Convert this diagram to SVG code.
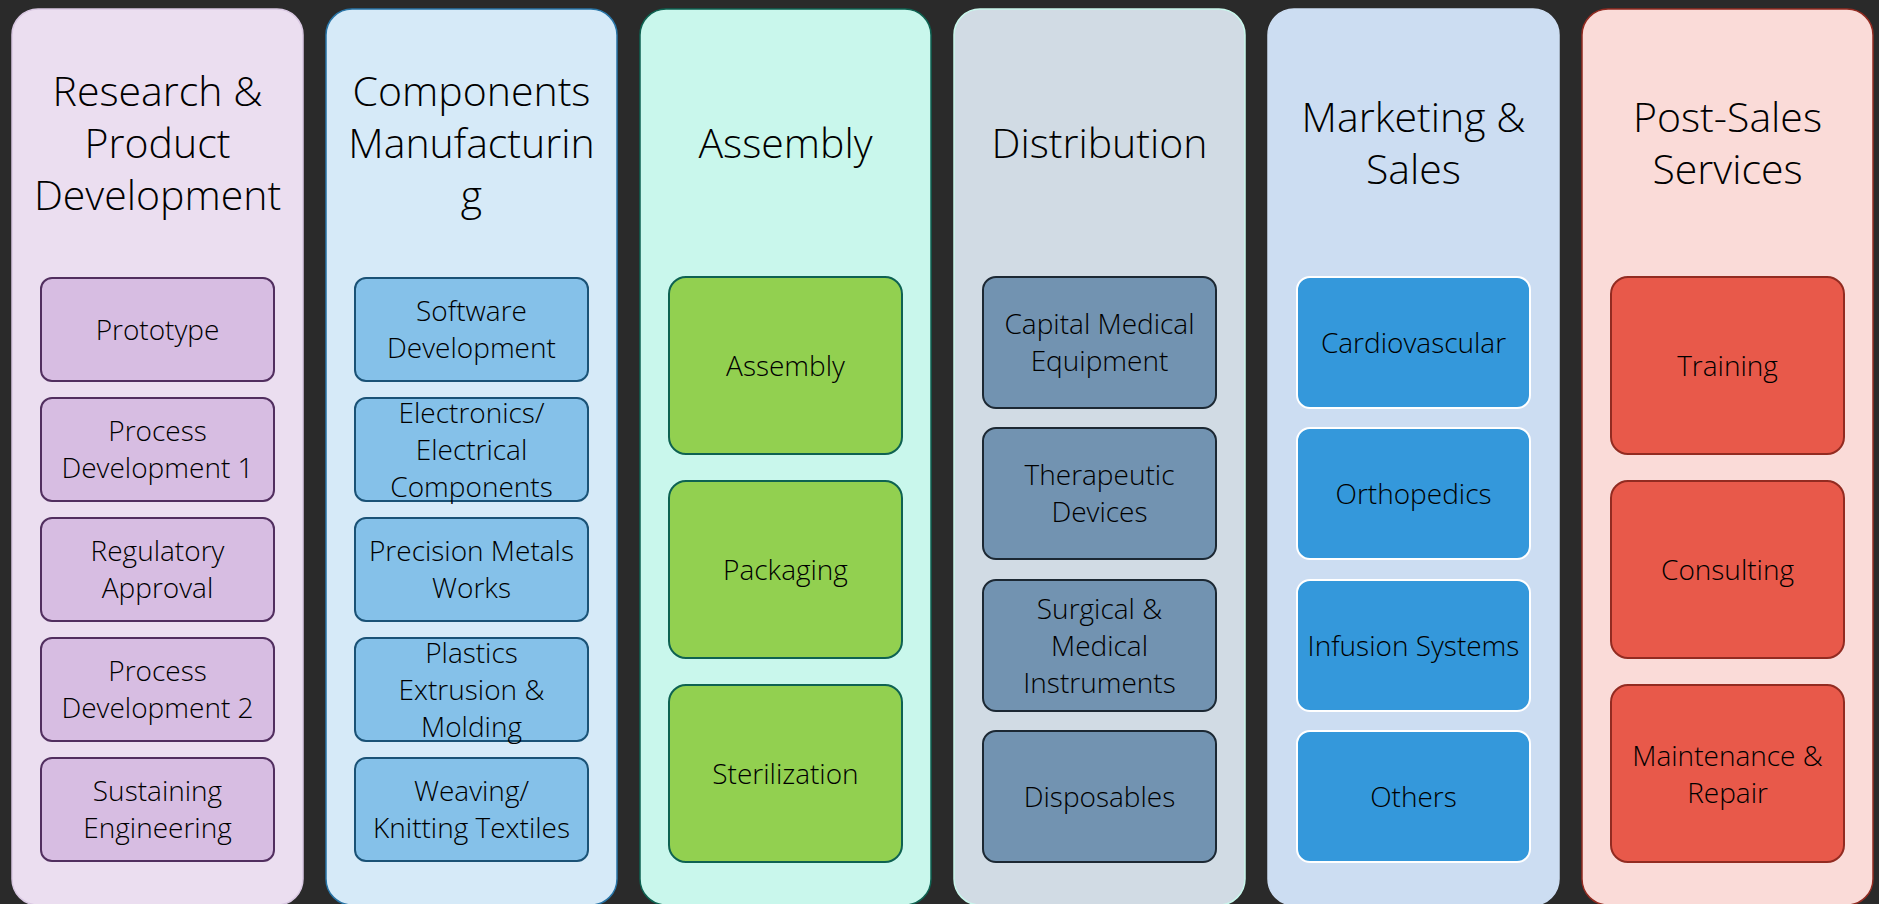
<svg xmlns="http://www.w3.org/2000/svg" width="1879" height="904" viewBox="0 0 1879 904">
<style>
text{font-family:"Segoe UI","Open Sans","Noto Sans",sans-serif;font-weight:300;fill:#000;text-anchor:middle}
.t{font-size:41px}
.b{font-size:28px}
.p1{fill:#EBDEF0;stroke:#D9C8E2;stroke-width:1.5}
.p2{fill:#D6EAF8;stroke:#2874A6;stroke-width:1.5}
.p3{fill:#C9F7EC;stroke:#0E6251;stroke-width:1.5}
.p4{fill:#D1DBE4;stroke:#C9F7EC;stroke-width:1.5}
.p5{fill:#CCDDF2;stroke:#CCDDF2;stroke-width:1.5}
.p6{fill:#FADBD8;stroke:#922B21;stroke-width:1.5}
.b1{fill:#D7BDE2;stroke:#512E5F;stroke-width:2}
.b2{fill:#85C1E9;stroke:#1A5276;stroke-width:2}
.b3{fill:#92D050;stroke:#0E6251;stroke-width:2}
.b4{fill:#7293B1;stroke:#1C2833;stroke-width:2}
.b5{fill:#3498DB;stroke:#FFFFFF;stroke-width:2}
.b6{fill:#E8594A;stroke:#922B21;stroke-width:2}
</style>
<rect x="0" y="0" width="1879" height="904" fill="#2A2A2A"/>
<g id="col1">
<rect class="p1" x="12" y="9" width="291" height="896" rx="26"/>
<text class="t" x="157.5" y="105.5">Research &amp;</text>
<text class="t" x="157.5" y="157.5">Product</text>
<text class="t" x="157.5" y="209.5">Development</text>
</g>
<g id="col1-prototype"><rect class="b1" x="41" y="278" width="233" height="103" rx="11"/><text class="b" x="157.5" y="340">Prototype</text></g>
<g id="col1-pd1"><rect class="b1" x="41" y="398" width="233" height="103" rx="11"/><text class="b" x="157.5" y="441.3">Process</text><text class="b" x="157.5" y="478.3">Development 1</text></g>
<g id="col1-reg"><rect class="b1" x="41" y="518" width="233" height="103" rx="11"/><text class="b" x="157.5" y="561.3">Regulatory</text><text class="b" x="157.5" y="598.3">Approval</text></g>
<g id="col1-pd2"><rect class="b1" x="41" y="638" width="233" height="103" rx="11"/><text class="b" x="157.5" y="681.3">Process</text><text class="b" x="157.5" y="718.3">Development 2</text></g>
<g id="col1-sus"><rect class="b1" x="41" y="758" width="233" height="103" rx="11"/><text class="b" x="157.5" y="801.3">Sustaining</text><text class="b" x="157.5" y="838.3">Engineering</text></g>

<g id="col2">
<rect class="p2" x="326" y="9" width="291" height="896" rx="26"/>
<text class="t" x="471.5" y="105.5">Components</text>
<text class="t" x="471.5" y="157.5">Manufacturin</text>
<text class="t" x="471.5" y="209.5">g</text>
</g>
<g id="col2-sw"><rect class="b2" x="355" y="278" width="233" height="103" rx="11"/><text class="b" x="471.5" y="321.3">Software</text><text class="b" x="471.5" y="358.3">Development</text></g>
<g id="col2-el"><rect class="b2" x="355" y="398" width="233" height="103" rx="11"/><text class="b" x="471.5" y="422.8">Electronics/</text><text class="b" x="471.5" y="459.8">Electrical</text><text class="b" x="471.5" y="496.8">Components</text></g>
<g id="col2-pm"><rect class="b2" x="355" y="518" width="233" height="103" rx="11"/><text class="b" x="471.5" y="561.3">Precision Metals</text><text class="b" x="471.5" y="598.3">Works</text></g>
<g id="col2-pl"><rect class="b2" x="355" y="638" width="233" height="103" rx="11"/><text class="b" x="471.5" y="662.8">Plastics</text><text class="b" x="471.5" y="699.8">Extrusion &amp;</text><text class="b" x="471.5" y="736.8">Molding</text></g>
<g id="col2-wv"><rect class="b2" x="355" y="758" width="233" height="103" rx="11"/><text class="b" x="471.5" y="801.3">Weaving/</text><text class="b" x="471.5" y="838.3">Knitting Textiles</text></g>

<g id="col3">
<rect class="p3" x="640" y="9" width="291" height="896" rx="26"/>
<text class="t" x="785.5" y="157.5">Assembly</text>
</g>
<g id="col3-as"><rect class="b3" x="669" y="277" width="233" height="177" rx="17"/><text class="b" x="785.5" y="376">Assembly</text></g>
<g id="col3-pk"><rect class="b3" x="669" y="481" width="233" height="177" rx="17"/><text class="b" x="785.5" y="580">Packaging</text></g>
<g id="col3-st"><rect class="b3" x="669" y="685" width="233" height="177" rx="17"/><text class="b" x="785.5" y="784">Sterilization</text></g>

<g id="col4">
<rect class="p4" x="954" y="9" width="291" height="896" rx="26"/>
<text class="t" x="1099.5" y="157.5">Distribution</text>
</g>
<g id="col4-cap"><rect class="b4" x="983" y="277" width="233" height="131" rx="13"/><text class="b" x="1099.5" y="334.3">Capital Medical</text><text class="b" x="1099.5" y="371.3">Equipment</text></g>
<g id="col4-th"><rect class="b4" x="983" y="428" width="233" height="131" rx="13"/><text class="b" x="1099.5" y="485.3">Therapeutic</text><text class="b" x="1099.5" y="522.3">Devices</text></g>
<g id="col4-sm"><rect class="b4" x="983" y="580" width="233" height="131" rx="13"/><text class="b" x="1099.5" y="618.8">Surgical &amp;</text><text class="b" x="1099.5" y="655.8">Medical</text><text class="b" x="1099.5" y="692.8">Instruments</text></g>
<g id="col4-dp"><rect class="b4" x="983" y="731" width="233" height="131" rx="13"/><text class="b" x="1099.5" y="807">Disposables</text></g>

<g id="col5">
<rect class="p5" x="1268" y="9" width="291" height="896" rx="26"/>
<text class="t" x="1413.5" y="131.5">Marketing &amp;</text>
<text class="t" x="1413.5" y="183.5">Sales</text>
</g>
<g id="col5-cv"><rect class="b5" x="1297" y="277" width="233" height="131" rx="13"/><text class="b" x="1413.5" y="353">Cardiovascular</text></g>
<g id="col5-or"><rect class="b5" x="1297" y="428" width="233" height="131" rx="13"/><text class="b" x="1413.5" y="504">Orthopedics</text></g>
<g id="col5-in"><rect class="b5" x="1297" y="580" width="233" height="131" rx="13"/><text class="b" x="1413.5" y="656">Infusion Systems</text></g>
<g id="col5-ot"><rect class="b5" x="1297" y="731" width="233" height="131" rx="13"/><text class="b" x="1413.5" y="807">Others</text></g>

<g id="col6">
<rect class="p6" x="1582" y="9" width="291" height="896" rx="26"/>
<text class="t" x="1727.5" y="131.5">Post-Sales</text>
<text class="t" x="1727.5" y="183.5">Services</text>
</g>
<g id="col6-tr"><rect class="b6" x="1611" y="277" width="233" height="177" rx="17"/><text class="b" x="1727.5" y="376">Training</text></g>
<g id="col6-co"><rect class="b6" x="1611" y="481" width="233" height="177" rx="17"/><text class="b" x="1727.5" y="580">Consulting</text></g>
<g id="col6-mr"><rect class="b6" x="1611" y="685" width="233" height="177" rx="17"/><text class="b" x="1727.5" y="765.5">Maintenance &amp;</text><text class="b" x="1727.5" y="802.5">Repair</text></g>
<g id="connectors"/>
</svg>
